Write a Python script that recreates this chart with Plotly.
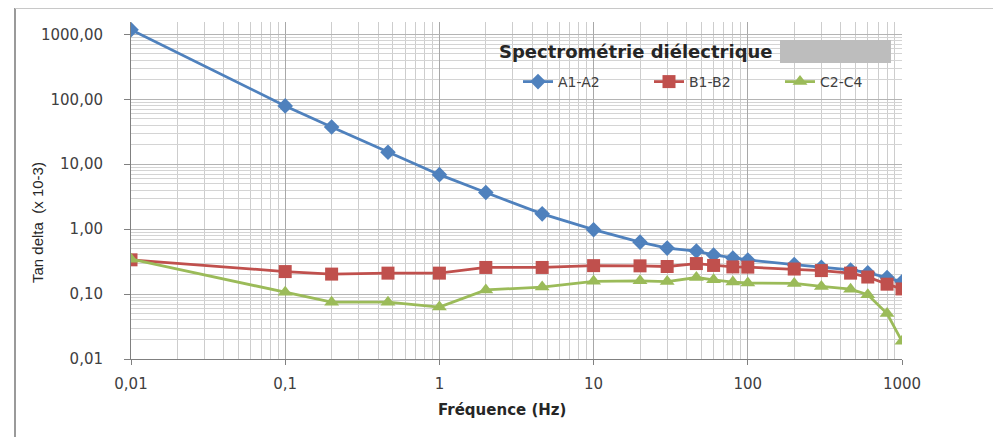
import plotly.graph_objects as go

# ---------------- data ----------------
freq_a = [0.01, 0.1, 0.2, 0.464, 1, 2, 4.64, 10, 20, 30, 46.4, 60, 80, 100, 200, 300, 464, 600, 800, 1000]
tan_a = [1180, 79, 37.5, 15.3, 6.9, 3.66, 1.72, 0.98, 0.63, 0.51, 0.46, 0.40, 0.36, 0.335, 0.285, 0.258, 0.235, 0.213, 0.18, 0.155]

freq_b = [0.01, 0.1, 0.2, 0.464, 1, 2, 4.64, 10, 20, 30, 46.4, 60, 80, 100, 200, 300, 464, 600, 800, 1000]
tan_b = [0.337, 0.222, 0.203, 0.21, 0.21, 0.257, 0.257, 0.274, 0.272, 0.266, 0.295, 0.276, 0.262, 0.26, 0.243, 0.23, 0.21, 0.183, 0.142, 0.12]

freq_c = [0.01, 0.1, 0.2, 0.464, 1, 2, 4.64, 10, 20, 30, 46.4, 60, 80, 100, 200, 300, 464, 600, 800, 1000]
tan_c = [0.345, 0.107, 0.075, 0.075, 0.063, 0.116, 0.128, 0.157, 0.16, 0.156, 0.18, 0.166, 0.153, 0.148, 0.146, 0.131, 0.119, 0.098, 0.05, 0.0187]

series_names = ["A1-A2", "B1-B2", "C2-C4"]

x_tickvals = [0.01, 0.1, 1, 10, 100, 1000]
x_ticktext = ["0,01", "0,1", "1", "10", "100", "1000"]
y_tickvals = [0.01, 0.1, 1, 10, 100, 1000]

legend_title = "Spectrométrie diélectrique"
x_title = "Fréquence (Hz)"
y_title = "Tan delta  (x 10-3)"

# ---------------- figure ----------------
BLUE = "#4F81BD"
RED = "#C0504D"
GREEN = "#9BBB59"

W, H = 993, 429
L, R, T, B = 123, 99, 14, 78
PW, PH = W - L - R, H - T - B


def px(xp):
    return (xp - L) / PW


def py(yp):
    return (H - B - yp) / PH


fig = go.Figure()
fig.add_trace(go.Scatter(x=freq_a, y=tan_a, name=series_names[0], mode="lines+markers",
                         line=dict(color=BLUE, width=2.8),
                         marker=dict(symbol="diamond", size=12, color=BLUE)))
fig.add_trace(go.Scatter(x=freq_b, y=tan_b, name=series_names[1], mode="lines+markers",
                         line=dict(color=RED, width=2.8),
                         marker=dict(symbol="square", size=13, color=RED)))
fig.add_trace(go.Scatter(x=freq_c, y=tan_c, name=series_names[2], mode="lines+markers",
                         line=dict(color=GREEN, width=2.8),
                         marker=dict(symbol="triangle-up", size=13, color=GREEN)))

tickfont = dict(family="DejaVu Sans", size=15, color="#404040")

fig.update_xaxes(type="log", range=[-2, 3],
                 tickvals=x_tickvals, ticktext=x_ticktext,
                 showline=True, linecolor="#808080", linewidth=1,
                 ticks="outside", ticklen=5, tickcolor="#808080",
                 showgrid=True, gridcolor="#a8a8a8", gridwidth=1,
                 minor=dict(dtick="D1", showgrid=True, gridcolor="#cdcdcd", ticks=""),
                 tickfont=tickfont, ticklabelstandoff=6, zeroline=False)
fig.update_yaxes(type="log", range=[-2, 3.19],
                 tickvals=y_tickvals, tickformat=".2f",
                 showline=True, linecolor="#808080", linewidth=1,
                 ticks="outside", ticklen=6, tickcolor="#808080",
                 showgrid=True, gridcolor="#b4b4b4", gridwidth=1,
                 minor=dict(dtick="D1", showgrid=True, gridcolor="#d4d4d4", ticks=""),
                 tickfont=tickfont, ticklabelstandoff=18, zeroline=False)

fig.update_layout(
    width=W, height=H,
    margin=dict(l=L, r=R, t=T, b=B, autoexpand=False),
    paper_bgcolor="white", plot_bgcolor="white",
    separators=", ",
    showlegend=True,
    legend=dict(
        orientation="h", x=px(510), y=py(74), xanchor="left", yanchor="middle",
        bgcolor="rgba(0,0,0,0)",
        font=dict(family="DejaVu Sans", size=14, color="#404040"),
        entrywidth=86, entrywidthmode="pixels", tracegroupgap=0,
    ),
    annotations=[
        dict(text="<b>" + legend_title + "</b>", xref="paper", yref="paper",
             x=px(489), y=py(44), xanchor="left", yanchor="middle", showarrow=False,
             font=dict(family="DejaVu Sans", size=18, color="#262626")),
        dict(text="<b>" + x_title + "</b>", xref="paper", yref="paper",
             x=px(494), y=py(402), xanchor="center", yanchor="middle", showarrow=False,
             font=dict(family="DejaVu Sans", size=15, color="#262626")),
        dict(text=y_title, xref="paper", yref="paper", textangle=-90,
             x=px(29), y=py(215), xanchor="center", yanchor="middle", showarrow=False,
             font=dict(family="Liberation Sans Narrow, Liberation Sans", size=15, color="#262626")),
    ],
    shapes=[
        # redaction box next to legend title
        dict(type="rect", xref="paper", yref="paper", x0=px(772), x1=px(883),
             y0=py(55), y1=py(32), fillcolor="#BDBDBD", line=dict(width=0),
             layer="above"),
        # outer chart frame (left, top, right)
        dict(type="line", xref="paper", yref="paper", x0=px(7), x1=px(7),
             y0=py(H), y1=py(0), line=dict(color="#9a9a9a", width=2)),
        dict(type="line", xref="paper", yref="paper", x0=px(7), x1=px(990),
             y0=py(0.5), y1=py(0.5), line=dict(color="#c8c8c8", width=1)),
        dict(type="line", xref="paper", yref="paper", x0=px(990), x1=px(990),
             y0=py(H), y1=py(0), line=dict(color="#e6e6e6", width=1)),
    ],
)

fig.write_html("out.html")
